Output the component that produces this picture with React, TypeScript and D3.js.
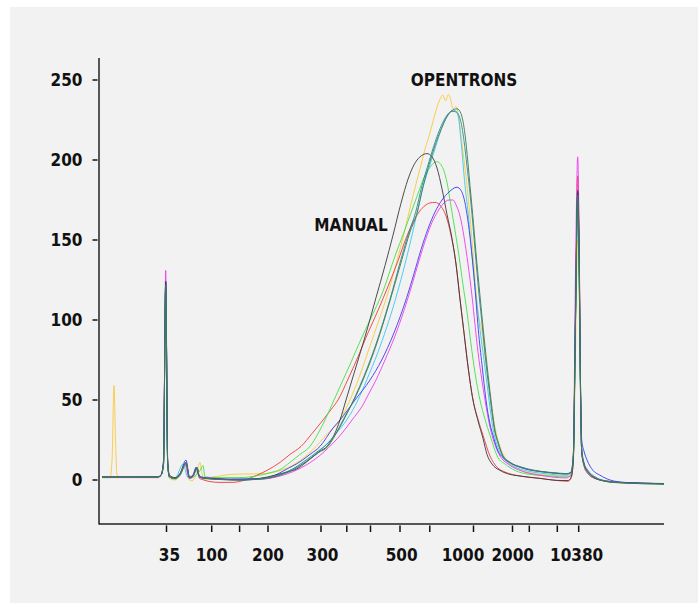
import React from "react";
import * as d3 from "d3";

type Pt = [number, number];

// x: migration position (scan units), y: fluorescence units (FU)
const yTicks = [0, 50, 100, 150, 200, 250];
const xTickValues = [67.5, 112.7, 140.6, 169, 222, 247.8, 271.5, 301, 330.8, 374.5, 413.5, 430.3, 458.3, 479.7];
const xLabelValues = [70.5, 112.7, 169, 223.5, 302.7, 364, 413.7, 477.6];
const xLabelTexts = ["35", "100", "200", "300", "500", "1000", "2000", "10380"];

const yellow: Pt[] = [[3,1.5],[11,1.5],[13,12],[15,59],[16.5,25],[18,3],[21,2],[59,1.5],[62,3],[64.5,9],[66.7,122],[68.7,9],[70.5,1],[76,0],[81,3],[87,9],[90.5,0],[93,-0.5],[97,3],[101,11],[103,4],[106,0],[111,1.5],[121,2.5],[131,3.5],[151,3.8],[166,4],[176,5],[184,6.5],[193,9],[203,13],[214,19],[227,28],[241,37.5],[251,50],[260,64],[270,82],[280,100],[290,119],[298,137],[305,154],[311,170],[317,185],[322,197],[327,209],[330,215],[334,224],[338,233],[341,238],[343.7,240.6],[346.5,237],[349.5,241],[352,237],[354,232],[357,233.5],[360,225],[364,205],[368,184],[371,165],[374,142],[377,118],[379.5,103],[382.7,94],[386,78],[390,58],[394,40],[399,25],[406,14],[416,8],[431,4.5],[451,3],[467,2.5],[472,3],[474.3,10],[476.5,80],[478.7,150],[480,120],[481.5,50],[482.7,18],[485,9],[489,4],[496,1],[506,-0.5],[521,-1.5],[565,-2.3]];

const red: Pt[] = [[3,1.5],[59,1.5],[62,3],[64.5,10],[66.7,122],[68.7,10],[70.5,2],[76,1],[81,3],[87,10],[90.5,1],[94,2.5],[98,7],[100.5,1],[105,0],[111,-1],[121,-1.5],[133,-1.5],[146,0],[156,2.5],[168,6],[181,11],[191,16],[202,21],[213,29],[224,37.5],[232,44],[239,50],[249,63],[259,77],[269,92],[279,106],[289,121],[299,137],[307,151],[314,161],[320,167.5],[326,171.5],[331,173.2],[336,173.5],[342,171],[347,165],[352,153],[357,135],[361,113],[365,92],[369,71],[374,50],[379,38],[384,28],[391,15],[398,8],[406,5],[421,2.5],[441,1],[461,-0.5],[469,-0.8],[472,1],[474.3,12],[476.5,110],[478.7,190],[480,155],[481.5,60],[482.7,18],[485,9],[489,4],[496,1],[506,-0.5],[521,-1.5],[565,-2.3]];

const green: Pt[] = [[3,2],[59,2],[62,3],[64.5,10],[66.7,123],[68.7,10],[70.5,2],[76,0.5],[81,3],[87,10],[90.5,1],[97,3],[101,6],[104,9],[106,2],[116,1.5],[141,1.5],[161,3],[171,4.5],[181,6.5],[191,11],[201,16],[211,21],[219,29],[226,37.5],[235,50],[244,62.5],[253,75],[262,88],[271,100],[284,118],[296,140],[305,155],[312,167],[319,179],[325,189],[331,195.5],[337.7,199],[343,196],[348,186],[352,171],[356,156],[360,140],[364,122],[368,105],[372,85],[376,67],[381,50],[386,38],[391,28],[399,14],[406,10],[416,6],[431,3.5],[451,2.5],[467,1.9],[472,2.5],[474.3,14],[476.5,100],[478.7,172],[480,140],[481.5,55],[482.7,18],[485,9],[489,4],[496,1],[506,-0.5],[521,-1.5],[565,-2.5]];

const cyan: Pt[] = [[3,2],[59,2],[62,3],[64.5,10],[66.7,123],[68.7,10],[70.5,2],[76,1],[84,10],[89,1.5],[94,3],[98,7],[100.5,1.5],[106,1],[131,0.5],[156,0.5],[176,2],[191,6],[206,11],[218,17],[227,22],[237,29],[247.7,37.5],[259,50],[267.7,62.5],[279,80],[296,112],[306,135],[313,153],[317.7,166],[324,183],[331,197],[338,211],[344,222],[350,229],[356,231],[359,228],[362,212],[366,184],[369.3,166],[373,140],[377,115],[381,94],[385,75],[389,55],[394,32],[398,22],[404,14],[413,9],[426,6],[446,4],[467,3],[472,4],[474.3,14],[476.5,100],[478.7,175],[480,140],[481.5,55],[482.7,18],[485,10],[489,5],[496,1.5],[506,-0.5],[521,-1.5],[565,-2.3]];

const magenta: Pt[] = [[3,2],[59,2],[62,3],[64.5,12],[66.7,131],[68.7,12],[70.5,2],[76,1],[81,3],[86,10],[90,1],[94,2],[98,7],[100.5,1.5],[106,1.5],[131,0.5],[161,0.5],[181,2.5],[197.7,6.25],[216,13],[234,23],[244,30],[253,37.5],[264,47],[269,53],[277,62.5],[286,75],[296,90],[305,106],[313,122],[320,137],[327,151],[333,161],[339,168],[344,172.5],[350,175],[354,175],[357,172],[361,165],[365,152],[369,135],[373,115],[376,97],[379,80],[383,62],[386,50],[391,33],[396,22],[401,15],[409,10],[421,6],[441,3],[467,1.3],[472,3],[474.3,15],[476.5,130],[478.7,202],[480,160],[481.5,60],[482.7,18],[485,9],[489,4],[496,1],[506,-0.5],[521,-1.5],[565,-2.3]];

const blue: Pt[] = [[3,2],[59,2],[62,3],[64.5,10],[66.7,124],[68.7,10],[70.5,2],[76,1],[81,4],[87,12.5],[90.5,2],[94,3],[97,8],[99.5,3],[106,1.5],[131,0.5],[161,1],[176,3],[186,6.25],[201,11.4],[211,16],[221,21],[234,32.5],[241,37.5],[256,50],[271,62.5],[282.7,75],[295,92],[307.7,114],[315,129],[322,144],[329,157],[336,167.5],[343,175],[350,180],[358,183],[362,181],[365,176],[368,166],[371,152],[374,134],[377,112],[379.3,94],[383,72],[387,50],[391,35],[394,28],[399,18],[404,14],[413,10],[426,7],[446,5],[467.7,3.8],[472,5],[474.3,16],[476.5,105],[478.7,180],[480,145],[481.5,60],[482.7,25],[485,18],[488,12.5],[494,6],[501,3],[511,0],[526,-1.5],[565,-2.3]];

const black: Pt[] = [[3,2],[59,2],[62,3],[64.5,12],[66.7,124],[68.7,12],[70.5,3],[76,1.5],[81,4],[87,11],[90.5,1.5],[94,3],[98,8],[100.5,2],[106,1],[121,0.5],[141,0],[161,1],[176,3],[188,5],[198,7],[211,13],[221,18],[228,21],[235,28],[241,37.5],[247,50],[253,62.5],[261,79],[269,96],[277,114],[286,134],[294,153],[302,173],[309,188],[315,197],[321,202],[328,204],[333,202],[338,195],[343,182],[348,166],[353,151],[357,135],[361,113],[365,92],[369,71],[374,50],[379,37],[384,26],[388,16],[393,10],[401,6],[411,3.5],[421,2.5],[441,1],[461,-0.3],[469,-0.3],[472,1.5],[474.3,12],[476.5,100],[478.7,181],[480,150],[481.5,60],[482.7,18],[485,10],[488,6],[494,2],[501,0],[516,-1.5],[541,-2],[565,-2.2]];

const teal: Pt[] = [[3,2],[59,2],[62,3],[64.5,10],[66.7,121],[68.7,10],[70.5,2],[76,1],[81,3.5],[87,11],[90.5,1.5],[94,2.5],[98,7.5],[100.5,2],[106,1],[141,0],[161,0.8],[181,3.5],[194,7],[206,12],[219,18],[229,23],[239,31],[246,39],[256,52],[265,65],[277,85],[291,113],[302,138],[310,155],[316.5,167],[323,184],[330,199],[336,211],[342,221],[348,228],[353,230.5],[357,230],[361,226],[365,212],[368,196],[370.5,182],[373,166],[376,144],[380,116],[383.5,95],[387,73],[391,52],[395,33],[399,23],[403,16],[410,11.5],[423,8],[441,5.5],[456,4.5],[467.7,4],[472,4.8],[474.3,14],[476.5,100],[478.7,176],[480,140],[481.5,55],[482.7,20],[485,11],[489,6],[496,2],[506,-0.5],[521,-1.6],[565,-2.5]];

const darkGreen: Pt[] = [[3,2],[59,2],[62,3],[64.5,10],[66.7,122],[68.7,10],[70.5,2],[76,1],[81,3.5],[87,10.5],[90.5,1.5],[94,2.5],[98,7.5],[100.5,2],[106,1],[141,0],[161,0.5],[181,3],[194,6.25],[206,11],[219,17],[229,21],[237,29],[244,37.5],[255,50],[264,62.5],[276,82],[291,112],[303,138],[311,155],[317.7,166],[324.3,184],[331,199],[336,209],[342,219],[348,227],[353,231],[358,232],[362,229],[366,216],[369,198],[371,184],[373.7,166],[377,142],[381,115],[384.3,94],[388,72],[392,50],[396,31],[400,22],[404,15],[411,11],[424,7.5],[441,5.2],[456,4.3],[467.7,3.8],[472,4.5],[474.3,14],[476.5,100],[478.7,178],[480,140],[481.5,55],[482.7,18],[485,10],[489,5],[496,1.5],[506,-0.8],[521,-1.8],[565,-2.6]];

const seriesList: { data: Pt[]; color: string }[] = [
  { data: yellow, color: "#f9c93c" },
  { data: red, color: "#f23a3a" },
  { data: green, color: "#45e045" },
  { data: cyan, color: "#3cc8f5" },
  { data: magenta, color: "#f03cf0" },
  { data: blue, color: "#3c3cf0" },
  { data: black, color: "#3a3a3a" },
  { data: teal, color: "#2a8a8a" },
  { data: darkGreen, color: "#3f7a55" },
];

const annotations = [
  { text: "OPENTRONS", x: 365, y: 246 },
  { text: "MANUAL", x: 252, y: 155.6 },
];

const FONT = "'DejaVu Sans Condensed', 'DejaVu Sans', sans-serif";

export default function App() {
  const W = 698;
  const H = 603;
  const x = d3.scaleLinear().domain([0, 565]).range([99, 664]);
  const y = d3.scaleLinear().domain([-27.5, 263.75]).range([524, 58]);
  const line = d3
    .line<Pt>()
    .x((d) => x(d[0]))
    .y((d) => y(d[1]))
    .curve(d3.curveMonotoneX);

  const x0 = x.range()[0];
  const x1 = x.range()[1];
  const yBottom = y.range()[0];
  const yTop = y.range()[1];

  return (
    <svg
      width={W}
      height={H}
      style={{ position: "absolute", left: 0, top: 0, display: "block" }}
      fontFamily={FONT}
    >
      <rect x={0} y={0} width={W} height={H} fill="#ffffff" />
      <rect x={10} y={7} width={W - 10} height={H - 7} fill="#f2f2f2" />

      {seriesList.map((s, i) => (
        <path key={i} d={line(s.data) || ""} fill="none" stroke={s.color} strokeWidth={1} strokeOpacity={0.9} />
      ))}

      <line x1={x0} x2={x0} y1={yTop} y2={yBottom + 0.5} stroke="#222" strokeWidth={1.5} />
      <line x1={x0} x2={x1} y1={yBottom} y2={yBottom} stroke="#222" strokeWidth={1.5} />

      {yTicks.map((t) => (
        <g key={"y" + t}>
          <line x1={x0 - 6.5} x2={x0 - 1.5} y1={y(t)} y2={y(t)} stroke="#111" strokeWidth={1.5} />
          <text
            x={x0 - 16.5}
            y={y(t) + 6}
            textAnchor="end"
            fontSize={17}
            fontWeight="bold"
            fontStretch="condensed"
            fill="#111"
          >
            {t}
          </text>
        </g>
      ))}

      {xTickValues.map((t, i) => (
        <line key={"xt" + i} x1={x(t)} x2={x(t)} y1={yBottom + 1.5} y2={yBottom + 8} stroke="#111" strokeWidth={1.5} />
      ))}
      {xLabelValues.map((t, i) => (
        <text
          key={"xl" + i}
          x={x(t)}
          y={560.5}
          textAnchor="middle"
          fontSize={17}
          fontWeight="bold"
          fontStretch="condensed"
          fill="#111"
        >
          {xLabelTexts[i]}
        </text>
      ))}

      {annotations.map((a, i) => (
        <text
          key={"a" + i}
          x={x(a.x)}
          y={y(a.y)}
          textAnchor="middle"
          fontSize={17}
          fontWeight="bold"
          fontStretch="condensed"
          fill="#111"
        >
          {a.text}
        </text>
      ))}
    </svg>
  );
}
